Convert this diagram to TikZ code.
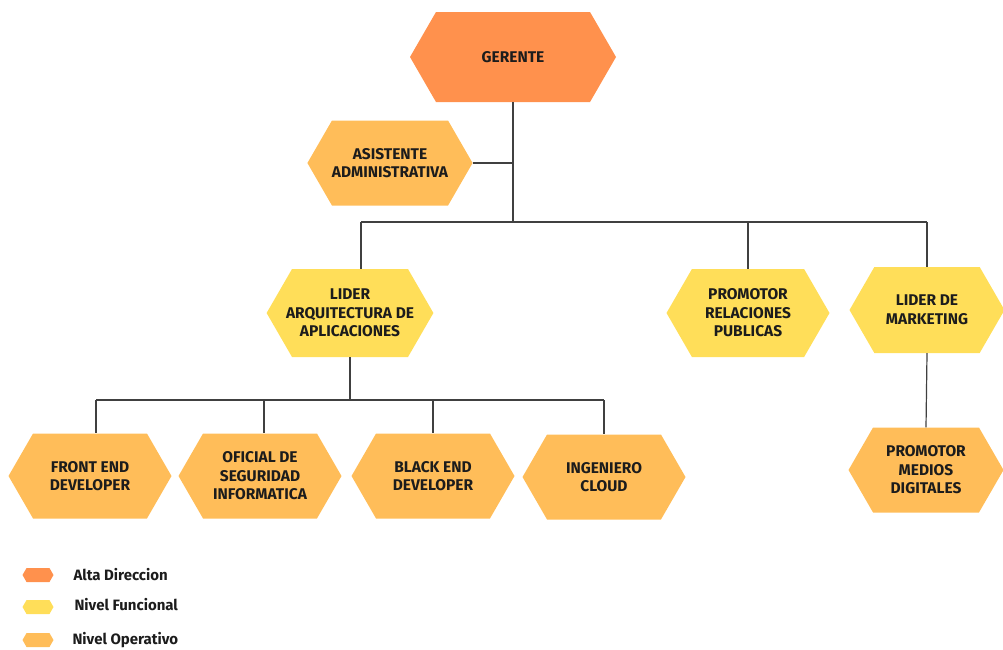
\documentclass[tikz,border=0pt]{standalone}
\usepackage{fontspec}
\setmainfont{Fira Sans}
\usetikzlibrary{shapes.symbols}

\definecolor{altaorange}{HTML}{FF914D}
\definecolor{funcyellow}{HTML}{FFDE59}
\definecolor{operorange}{HTML}{FFBD59}
\definecolor{inkdark}{HTML}{1C1C1C}

\tikzset{   hexbase/.style={shape=signal,signal to=east and west,signal pointer angle=120,draw=none,
                align=center,text=inkdark,font=\fontsize{15.5}{18.5}\selectfont\bfseries,inner sep=0pt},
            hexalta/.style={hexbase,fill=altaorange,minimum width=206pt,minimum height=90pt},
            hexfunc/.style={hexbase,fill=funcyellow,minimum width=163pt,minimum height=88pt},
            hexoper/.style={hexbase,fill=operorange,minimum width=163pt,minimum height=85pt},
            hexkey/.style={shape=signal,signal to=east and west,signal pointer angle=120,minimum width=31pt,minimum height=14pt,inner sep=0pt},
            keytext/.style={anchor=west,text=inkdark,font=\fontsize{15}{17}\selectfont\bfseries},
            conn/.style={draw=black!75,line width=1.2pt},
}

\begin{document}
\begin{tikzpicture}[x=1pt,y=-1pt]
    \useasboundingbox (0,0) rectangle (1003,649);

    \node[hexalta] (ger) at (513,57) {GERENTE};  % top level
    \node[hexoper] (asis) at (390,163) {ASISTENTE\\ADMINISTRATIVA};

    \node[hexfunc,inner xsep=-6pt] (arq) at (350,313) {LIDER\\ARQUITECTURA DE\\APLICACIONES};  % second level
    \node[hexfunc] (prom) at (748,313) {PROMOTOR\\RELACIONES\\PUBLICAS};
    \node[hexfunc,minimum width=155pt,minimum height=86pt] (mkt) at (927,310) {LIDER DE\\MARKETING};

    \node[hexoper] (front) at (90,476) {FRONT END\\DEVELOPER};  % third level
    \node[hexoper] (ofi) at (260,476) {OFICIAL DE\\SEGURIDAD\\INFORMATICA};
    \node[hexoper] (back) at (433,476) {BLACK END\\DEVELOPER};
    \node[hexoper] (ing) at (604,477) {INGENIERO\\CLOUD};
    \node[hexoper,minimum width=155pt] (medios) at (926,470) {PROMOTOR\\MEDIOS\\DIGITALES};

    \coordinate (j1) at (513,222);  % junction points of the buses
    \coordinate (busL) at (361,222);
    \coordinate (j2) at (350,400);
    \coordinate (bus2L) at (96,400);
    \coordinate (bus2B) at (264,400);
    \coordinate (bus2R) at (604,400);

    \draw[conn] (ger.south) -- (j1);  % gerente and asistente
    \draw[conn] (asis.east) -- (asis.east -| j1);

    \draw[conn] (busL) -- (j1 -| mkt.north);  % bus to second level
    \draw[conn] (busL) -- (busL |- arq.north);
    \draw[conn] (j1 -| prom.north) -- (prom.north);
    \draw[conn] (j1 -| mkt.north) -- (mkt.north);

    \draw[conn] (arq.south) -- (j2);  % bus to third level
    \draw[conn] (bus2L) -- (bus2R);
    \draw[conn] (bus2L) -- (bus2L |- front.north);
    \draw[conn] (bus2B) -- (bus2B |- ofi.north);
    \draw[conn] (j2 -| back.north) -- (back.north);
    \draw[conn] (bus2R) -- (ing.north);
    \draw[conn] (mkt.south) -- (medios.north);

    \node[hexkey,fill=altaorange] (k1) at (38,575) {};  % legend
    \node[hexkey,fill=funcyellow] (k2) at (38,607) {};
    \node[hexkey,fill=operorange] (k3) at (38,640) {};
    \node[keytext] (t1) at (70,575) {Alta Direccion};
    \node[keytext] (t2) at (71,605) {Nivel Funcional};
    \node[keytext] (t3) at (69,640) {Nivel Operativo};
\end{tikzpicture}
\end{document}
